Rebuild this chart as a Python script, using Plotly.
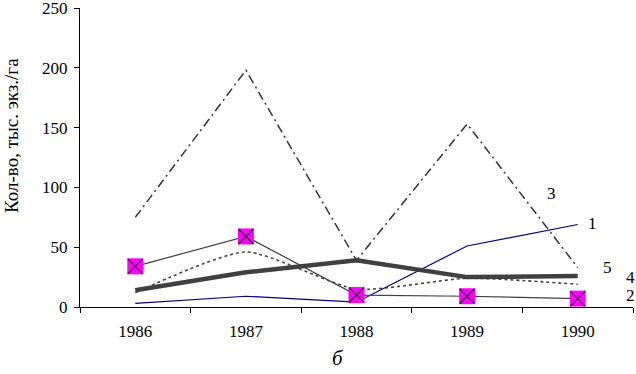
import plotly.graph_objects as go

years = ["1986", "1987", "1988", "1989", "1990"]
s1 = [3, 9, 4, 51, 69]
s2 = [34, 59, 10, 9, 7]
s3 = [75, 198, 39, 153, 33]
s4 = [12, 46, 15, 24, 19]
s5 = [14, 29, 39, 25, 26]
y_ticks = [0, 50, 100, 150, 200, 250]

labels = ["1", "2", "3", "4", "5"]
label_y = [70, 10, 95, 25, 33]
label_x = [0.926, 0.995, 0.853, 0.995, 0.953]

F = "Liberation Serif, Times New Roman, serif"
YMAX = 250

fig = go.Figure()
fig.add_trace(go.Scatter(x=years, y=s3, mode="lines",
                         line=dict(color="#333333", width=1.5, dash="9px,4px,2px,4px")))
fig.add_trace(go.Scatter(x=years, y=s4, mode="lines",
                         line=dict(color="#444444", width=1.6, dash="dot", shape="spline", smoothing=0.6)))
fig.add_trace(go.Scatter(x=years, y=s1, mode="lines",
                         line=dict(color="#000080", width=1.2)))
fig.add_trace(go.Scatter(x=years, y=s5, mode="lines",
                         line=dict(color="#404040", width=4.5)))
fig.add_trace(go.Scatter(x=years, y=s2, mode="lines+markers",
                         line=dict(color="#404040", width=1.2),
                         marker=dict(symbol="square", size=16, color="#ff00ff",
                                     line=dict(width=0))))
fig.add_trace(go.Scatter(x=years, y=s2, mode="markers",
                         marker=dict(symbol="x-thin", size=15, color="#3a1a3a",
                                     line=dict(color="#3a1a3a", width=1.3))))

for t, xx, yy in zip(labels, label_x, label_y):
    fig.add_annotation(x=xx, xref="paper", y=yy / YMAX, yref="paper", text=t, showarrow=False,
                       xanchor="center", yanchor="middle",
                       font=dict(family=F, size=17, color="black"))

fig.add_annotation(x=0.467, xref="paper", y=-0.17, yref="paper", text="<i>б</i>",
                   xanchor="center", yanchor="middle",
                   showarrow=False, font=dict(family=F, size=21, color="black"))
fig.add_annotation(x=-0.125, xref="paper", y=0.575, yref="paper", text="Кол-во, тыс. экз./га",
                   xanchor="center", yanchor="middle",
                   textangle=-90, showarrow=False, font=dict(family=F, size=19, color="black"))

fig.update_layout(
    width=636, height=374,
    margin=dict(l=80, r=3, t=8, b=67),
    paper_bgcolor="white", plot_bgcolor="white",
    showlegend=False,
    font=dict(family=F, size=17, color="black"),
)
fig.update_xaxes(type="category", range=[-0.5, 4.5], showgrid=False, automargin=False,
                 showline=True, linecolor="black", linewidth=1.3,
                 ticks="outside", tickson="boundaries", ticklen=5, tickcolor="black",
                 ticklabelstandoff=8,
                 tickfont=dict(family=F, size=17), zeroline=False)
fig.update_yaxes(range=[0, YMAX], tickvals=y_ticks, showgrid=False, automargin=False,
                 showline=True, linecolor="black", linewidth=1.3,
                 ticks="outside", ticklen=5, tickcolor="black", ticklabeloverflow="allow",
                 ticklabelstandoff=3,
                 tickfont=dict(family=F, size=17), zeroline=False)

fig.write_html("out.html", config={"displayModeBar": False},
               post_script="document.body.style.margin='0px';")
